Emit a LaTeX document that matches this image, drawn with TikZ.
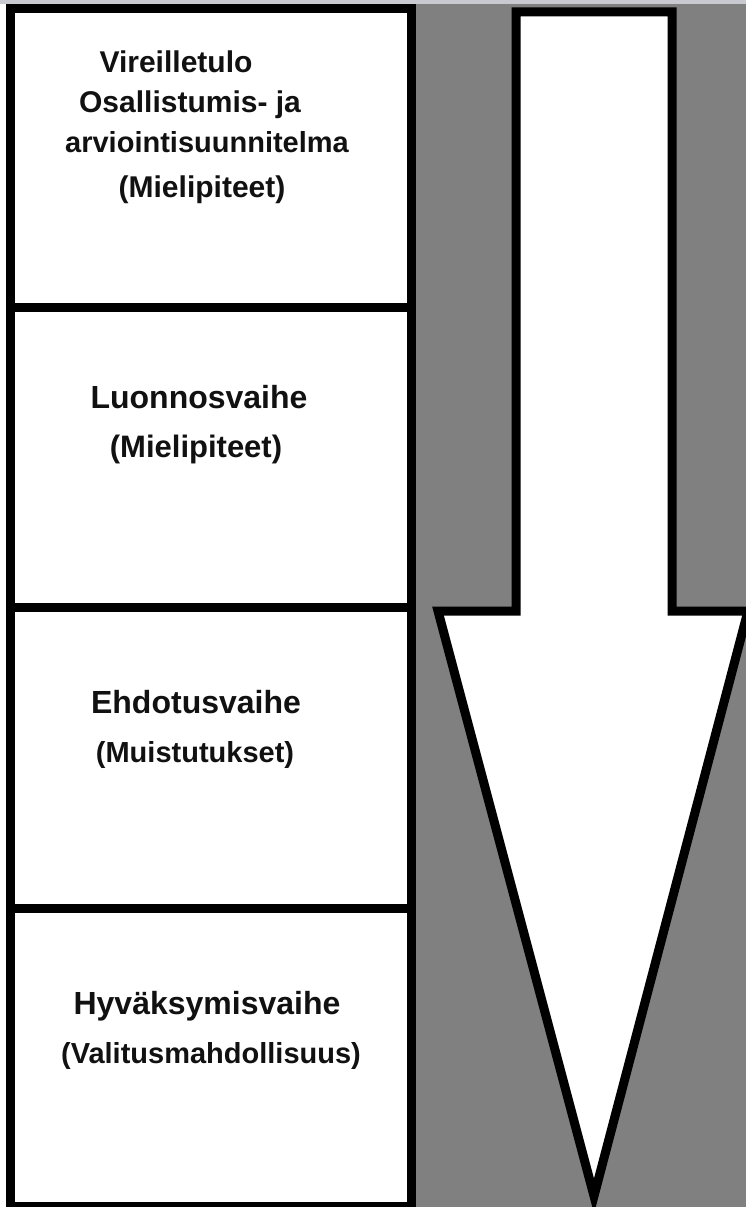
\documentclass[tikz,border=0pt]{standalone}
\usepackage{fontspec}
\setmainfont{Liberation Sans}
\definecolor{bggray}{HTML}{808080}
\definecolor{topline}{HTML}{C9C9D1}
\definecolor{ink}{HTML}{111111}
\begin{document}
\begin{tikzpicture}[x=1pt,y=-1pt,
  stage/.style={draw=black, line width=9pt, fill=white, inner sep=0pt, outer sep=0pt, minimum width=401pt},
  title/.style={anchor=base, inner sep=0pt, text=ink, font=\bfseries\fontsize{32}{38}\selectfont},
  sub/.style={anchor=base, inner sep=0pt, text=ink, font=\bfseries\fontsize{29}{35}\selectfont},
  first/.style={anchor=base, inner sep=0pt, text=ink, font=\bfseries\fontsize{30}{36}\selectfont},
  flow/.style={draw=black, line width=9pt, fill=white, line join=miter}]
\useasboundingbox (0,0) rectangle (746,1207);
\clip (0,0) rectangle (746,1207);
\fill[white] (0,0) rectangle (746,1207);
\fill[topline] (0,0) rectangle (746,4);
\fill[bggray] (415,4) rectangle (746,1207);
% stage boxes
\node[stage, minimum height=298.5pt] (b1) at (211,157.75) {};
\node[stage, minimum height=300.5pt] (b2) at (211,457.25) {};
\node[stage, minimum height=300.5pt] (b3) at (211,757.75) {};
\node[stage, minimum height=298pt] (b4) at (211,1057) {};
% texts
\node[first] (v1) at (176,73) {Vireilletulo};
\node[first] (v2) at (190,112) {Osallistumis- ja};
\node[first, font=\bfseries\fontsize{29}{35}\selectfont] (v3) at (207,152) {arviointisuunnitelma};
\node[first] (v4) at (202,197) {(Mielipiteet)};
\node[title] (l1) at (199,408) {Luonnosvaihe};
\node[sub, font=\bfseries\fontsize{31}{37}\selectfont] (l2) at (196,457) {(Mielipiteet)};
\node[title] (e1) at (196,713) {Ehdotusvaihe};
\node[sub] (e2) at (195,762) {(Muistutukset)};
\node[title] (h1) at (207,1014) {Hyväksymisvaihe};
\node[sub] (h2) at (211,1063) {(Valitusmahdollisuus)};
% big arrow
\draw[flow] (516,12) -- (672,12) -- (672,611) -- (748,611) -- (594,1196) -- (438,611) -- (516,611) -- cycle;
\end{tikzpicture}
\end{document}
